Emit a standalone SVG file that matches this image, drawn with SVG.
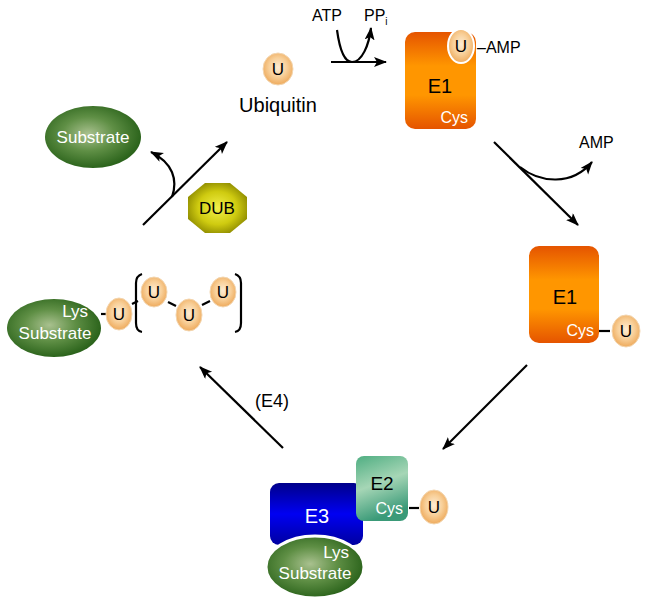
<svg xmlns="http://www.w3.org/2000/svg" width="647" height="604" viewBox="0 0 647 604">
<defs>
<style>
text{font-family:"Liberation Sans",Arial,sans-serif;}
.k{fill:#000;}
.w{fill:#fff;}
.u{fill:url(#gU);stroke:#f3d6b0;stroke-width:1;}
.uw{fill:url(#gU);stroke:#fff;stroke-width:2;}
.ln{stroke:#000;stroke-width:2.2;fill:none;}
.ar{stroke:#000;stroke-width:2.2;fill:none;marker-end:url(#ah);}
.sub{fill:url(#gS);}
</style>
<marker id="ah" markerUnits="userSpaceOnUse" markerWidth="14" markerHeight="12" refX="12" refY="5" orient="auto" viewBox="0 0 14 12">
<path d="M0,0 L13,5 L0,10 L3,5 z" fill="#000"/>
</marker>
<radialGradient id="gU" cx="50%" cy="45%" r="55%">
<stop offset="0" stop-color="#fdecd4"/>
<stop offset="0.55" stop-color="#f8cf98"/>
<stop offset="1" stop-color="#eeaa5c"/>
</radialGradient>
<radialGradient id="gS" cx="45%" cy="45%" r="55%">
<stop offset="0" stop-color="#a9c18f"/>
<stop offset="0.5" stop-color="#5f8f45"/>
<stop offset="1" stop-color="#2c641c"/>
</radialGradient>
<radialGradient id="gD" cx="50%" cy="50%" r="55%">
<stop offset="0" stop-color="#f2f04a"/>
<stop offset="0.6" stop-color="#cfcb10"/>
<stop offset="1" stop-color="#8f8c00"/>
</radialGradient>
<linearGradient id="gO" x1="0" y1="0" x2="0" y2="1">
<stop offset="0" stop-color="#e55400"/>
<stop offset="0.35" stop-color="#ff9600"/>
<stop offset="0.65" stop-color="#ff9600"/>
<stop offset="1" stop-color="#e55400"/>
</linearGradient>
<linearGradient id="gB" x1="0" y1="0" x2="0" y2="1">
<stop offset="0" stop-color="#00008a"/>
<stop offset="0.5" stop-color="#0000f2"/>
<stop offset="1" stop-color="#0000a0"/>
</linearGradient>
<linearGradient id="gG" x1="0" y1="0" x2="0.3" y2="1">
<stop offset="0" stop-color="#4fae82"/>
<stop offset="0.5" stop-color="#a6d6b6"/>
<stop offset="1" stop-color="#3a9a78"/>
</linearGradient>
</defs>

<g id="connectors">
<line class="ar" x1="331" y1="62" x2="386" y2="62"/>
<path class="ar" d="M337,30 C340,52 345,62 352,62 C362,62 369,45 371,28"/>
<line class="ar" x1="494" y1="142" x2="578" y2="225"/>
<path class="ar" d="M520,167 C540,183 572,186 592,162"/>
<line class="ar" x1="527" y1="365" x2="443" y2="449"/>
<line class="ar" x1="283" y1="448" x2="200" y2="367"/>
<line class="ar" x1="143" y1="225" x2="227" y2="142"/>
<path class="ar" d="M172,197 C178,180 173,163 151,152"/>
</g>

<g id="reaction-labels">
<text class="k" x="312" y="21" font-size="16">ATP</text>
<text class="k" x="364" y="21" font-size="16">PP<tspan font-size="10" dy="4">i</tspan></text>
<text class="k" x="579" y="148" font-size="16">AMP</text>
<text class="k" x="255" y="407" font-size="18">(E4)</text>
</g>

<g id="ubiquitin">
<ellipse class="u" cx="278" cy="69" rx="15" ry="16"/>
<text class="k" x="278" y="75" font-size="17" text-anchor="middle">U</text>
<text class="k" x="278" y="112" font-size="20" text-anchor="middle">Ubiquitin</text>
</g>

<g id="e1-amp">
<rect x="405" y="32" width="71" height="97" rx="10" fill="url(#gO)"/>
<text class="k" x="440" y="93" font-size="20" text-anchor="middle">E1</text>
<text class="w" x="468" y="123" font-size="16" text-anchor="end">Cys</text>
<ellipse class="uw" cx="461" cy="46" rx="13" ry="17"/>
<text class="k" x="461" y="52" font-size="17" text-anchor="middle">U</text>
<text class="k" x="477" y="53" font-size="16">–AMP</text>
</g>

<g id="e1-cys">
<rect x="529" y="246" width="70" height="97" rx="10" fill="url(#gO)"/>
<text class="k" x="565" y="304" font-size="20" text-anchor="middle">E1</text>
<text class="w" x="594" y="336" font-size="16" text-anchor="end">Cys</text>
<line class="ln" x1="599" y1="331" x2="610" y2="331"/>
<ellipse class="u" cx="626" cy="331" rx="14" ry="16"/>
<text class="k" x="626" y="337" font-size="17" text-anchor="middle">U</text>
</g>

<g id="e3-e2">
<rect x="270" y="483" width="93" height="62" rx="9" fill="url(#gB)"/>
<text class="w" x="317" y="523" font-size="20" text-anchor="middle">E3</text>
<rect x="356" y="456" width="52" height="65" rx="8" fill="url(#gG)"/>
<text class="k" x="382" y="490" font-size="19" text-anchor="middle">E2</text>
<text class="w" x="403" y="514" font-size="16" text-anchor="end">Cys</text>
<line class="ln" x1="409" y1="508" x2="419" y2="508"/>
<ellipse class="u" cx="434" cy="507" rx="14" ry="17"/>
<text class="k" x="434" y="513" font-size="17" text-anchor="middle">U</text>
<ellipse class="sub" cx="315" cy="567" rx="49" ry="31" stroke="#fff" stroke-width="3"/>
<text class="w" x="349" y="558" font-size="17" text-anchor="end">Lys</text>
<text class="w" x="315" y="579" font-size="17" text-anchor="middle">Substrate</text>
</g>

<g id="polyubiquitin">
<ellipse class="sub" cx="54" cy="328" rx="47" ry="29"/>
<text class="w" x="88" y="317" font-size="17" text-anchor="end">Lys</text>
<text class="w" x="55" y="339" font-size="17" text-anchor="middle">Substrate</text>
<line class="ln" x1="101" y1="314" x2="107" y2="314"/>
<ellipse class="u" cx="119" cy="314" rx="13" ry="16"/>
<text class="k" x="119" y="320" font-size="17" text-anchor="middle">U</text>
<path class="ln" d="M142,274 Q136,276 136,283 L136,323 Q136,331 142,332" stroke-width="1.6"/>
<path class="ln" d="M235,274 Q241,276 241,283 L241,323 Q241,331 235,332" stroke-width="1.6"/>
<line class="ln" x1="132" y1="304" x2="138" y2="301"/>
<line class="ln" x1="168" y1="302" x2="176" y2="306"/>
<line class="ln" x1="202" y1="305" x2="210" y2="301"/>
<ellipse class="u" cx="154" cy="292" rx="13" ry="15"/>
<text class="k" x="154" y="298" font-size="17" text-anchor="middle">U</text>
<ellipse class="u" cx="189" cy="315" rx="13" ry="16"/>
<text class="k" x="189" y="321" font-size="17" text-anchor="middle">U</text>
<ellipse class="u" cx="223" cy="292" rx="13" ry="15"/>
<text class="k" x="223" y="298" font-size="17" text-anchor="middle">U</text>
</g>

<g id="substrate-free">
<ellipse class="sub" cx="93" cy="137" rx="48" ry="31"/>
<text class="w" x="93" y="143" font-size="17" text-anchor="middle">Substrate</text>
</g>

<g id="dub">
<polygon points="205,183 230,183 247,197 247,219 230,233 205,233 188,219 188,197" fill="url(#gD)"/>
<text class="k" x="217" y="214" font-size="17" text-anchor="middle">DUB</text>
</g>
</svg>
